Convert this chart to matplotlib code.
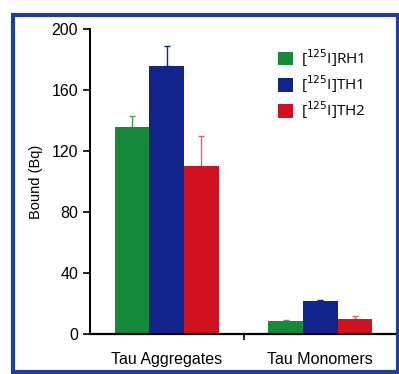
import matplotlib
matplotlib.use("Agg")
import matplotlib.pyplot as plt
from matplotlib.patches import Rectangle
import numpy as np

categories = ["Tau Aggregates", "Tau Monomers"]
series = ["[$^{125}$I]RH1", "[$^{125}$I]TH1", "[$^{125}$I]TH2"]
rh1 = [136, 8.5]
th1 = [176, 21.5]
th2 = [110, 10]
rh1_err = [7, 0.8]
th1_err = [13, 0.8]
th2_err = [20, 2]
colors = ["#168a3a", "#12248c", "#d0111f"]
err_colors = ["#4a9a5a", "#12248c", "#e06070"]

fig = plt.figure(figsize=(3.99, 3.74), dpi=100)
fig.patch.set_facecolor("white")
W, H = 399, 374
ax = fig.add_axes([90 / W, 40 / H, (397 - 90) / W, (334 - 29) / H])

x = np.arange(len(categories))
w = 0.225
vals = [rh1, th1, th2]
errs = [rh1_err, th1_err, th2_err]
for i, (v, e) in enumerate(zip(vals, errs)):
    ax.bar(x + (i - 1) * w, v, width=w, color=colors[i], label=series[i], zorder=2)
    ax.errorbar(x + (i - 1) * w, v, yerr=[np.zeros(len(e)), e], fmt="none",
                ecolor=err_colors[i], elinewidth=1.0, capsize=2, capthick=1.0, zorder=1)

ax.set_xlim(-0.5, 1.5)
ax.set_ylim(0, 200)
ax.set_yticks([0, 40, 80, 120, 160, 200])
ax.set_xticks([0.5])
ax.set_xticklabels([])
ax.set_xticks(x, minor=True)
ax.set_xticklabels(categories, minor=True, fontsize=11.5, family="Liberation Sans")
ax.tick_params(axis="x", which="minor", length=0, pad=13)
ax.tick_params(axis="x", which="major", length=4, width=1.2, direction="out")
ax.tick_params(axis="y", length=5, width=1.2, direction="out", labelsize=11.5)
for lab in ax.get_yticklabels():
    lab.set_family("Liberation Sans")
for s in ["top", "right"]:
    ax.spines[s].set_visible(False)
ax.spines["left"].set_linewidth(1.4)
ax.spines["bottom"].set_linewidth(1.6)
ax.set_ylabel("Bound (Bq)", fontsize=10.5, family="Liberation Sans", labelpad=6)

leg = ax.legend(loc="upper left", bbox_to_anchor=((272 - 90) / (397 - 90), (334 - 41) / (334 - 29)),
                frameon=False, handlelength=1.0, handleheight=1.0,
                handletextpad=0.5, labelspacing=0.3, borderaxespad=0,
                prop={"family": "Open Sans", "size": 11})

fig.patches.append(Rectangle((13 / W, 1 - 372 / H), (398 - 13) / W, (372 - 15) / H,
                             transform=fig.transFigure, fill=False,
                             edgecolor="#1f3f9a", linewidth=3, zorder=0))

fig.savefig("out.png", dpi=100)
